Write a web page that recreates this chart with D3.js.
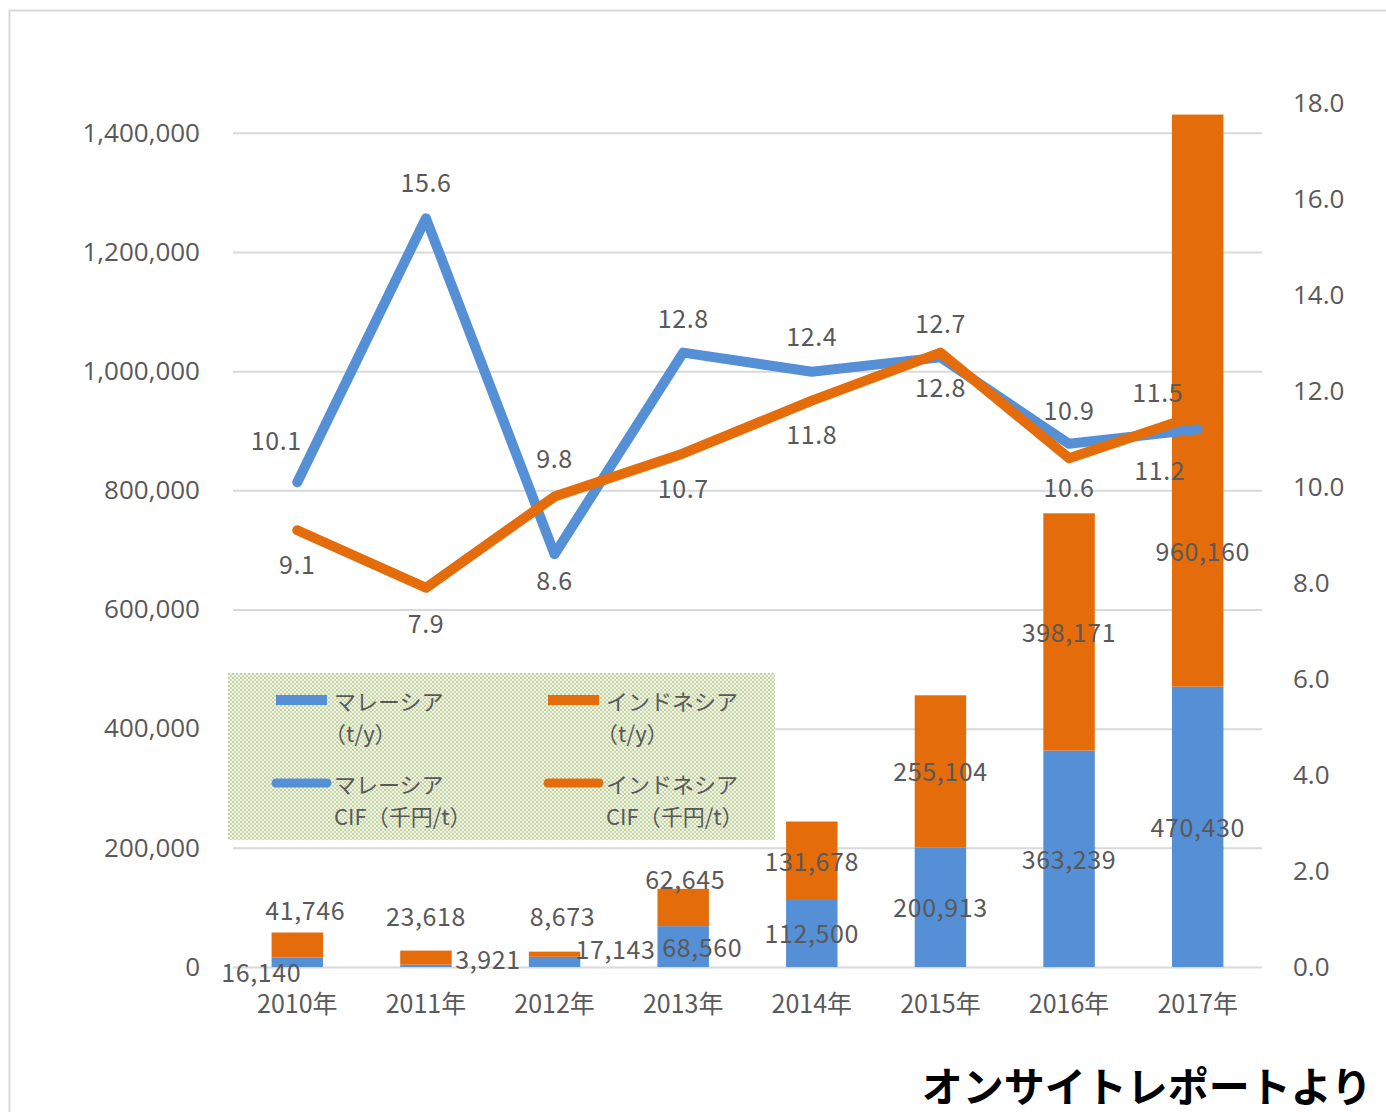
<!DOCTYPE html>
<html>
<head>
<meta charset="utf-8">
<script src="https://d3js.org/d3.v7.min.js"></script>
<style>
  body { margin: 0; background: #fff; }
  svg { display: block; }
</style>
</head>
<body>
<svg id="chart" width="1386" height="1112"></svg>
<script>
// data
var years = ["2010年", "2011年", "2012年", "2013年", "2014年", "2015年", "2016年", "2017年"];
var malaysiaTons = [16140, 3921, 17143, 68560, 112500, 200913, 363239, 470430];
var indonesiaTons = [41746, 23618, 8673, 62645, 131678, 255104, 398171, 960160];
var malaysiaCif = [10.1, 15.6, 8.6, 12.8, 12.4, 12.7, 10.9, 11.2];
var indonesiaCif = [9.1, 7.9, 9.8, 10.7, 11.8, 12.8, 10.6, 11.5];
var leftTicks = [0, 200000, 400000, 600000, 800000, 1000000, 1200000, 1400000];
var rightTicks = [0, 2, 4, 6, 8, 10, 12, 14, 16, 18];

var blue = "#5590d6", orange = "#e46c0a", textGray = "#595959";
var cjk = "'Noto Sans CJK JP', 'Noto Sans', sans-serif";

var svg = d3.select("#chart"),
    plotLeft = 233, plotRight = 1262, plotTop = 103, plotBottom = 967;

var x = d3.scaleBand().domain(years).range([plotLeft, plotRight]).paddingInner(0.6).paddingOuter(0.3);
var yL = d3.scaleLinear().domain([0, 1450000]).range([plotBottom, plotTop]);
var yR = d3.scaleLinear().domain([0, 18]).range([plotBottom, plotTop]);

// outer frame
svg.append("rect")
    .attr("x", 9.5).attr("y", 10.5)
    .attr("width", 1400).attr("height", 1200)
    .attr("fill", "none").attr("stroke", "#d9d9d9").attr("stroke-width", 2);

// gridlines
svg.append("g")
    .attr("transform", "translate(" + plotLeft + ",0)")
    .call(d3.axisLeft(yL).tickValues(leftTicks).tickSize(-(plotRight - plotLeft)).tickFormat(""))
    .call(function(g) { g.select(".domain").remove(); })
    .selectAll("line").attr("stroke", "#d9d9d9").attr("stroke-width", 2);

// left axis labels
svg.append("g")
    .attr("transform", "translate(" + plotLeft + ",0)")
    .call(d3.axisLeft(yL).tickValues(leftTicks).tickSize(0).tickPadding(33).tickFormat(d3.format(",")))
    .call(function(g) { g.select(".domain").remove(); })
    .selectAll("text")
    .attr("fill", textGray).style("font-family", "'Open Sans', sans-serif").style("font-size", "26px");

// right axis labels
svg.append("g")
    .attr("transform", "translate(" + plotRight + ",0)")
    .call(d3.axisRight(yR).tickValues(rightTicks).tickSize(0).tickPadding(31).tickFormat(d3.format(".1f")))
    .call(function(g) { g.select(".domain").remove(); })
    .selectAll("text")
    .attr("fill", textGray).style("font-family", "'Open Sans', sans-serif").style("font-size", "26px");

// category labels
svg.append("g")
    .attr("transform", "translate(0," + plotBottom + ")")
    .call(d3.axisBottom(x).tickSize(0).tickPadding(28))
    .call(function(g) { g.select(".domain").remove(); })
    .selectAll("text")
    .attr("fill", textGray).style("font-family", cjk).style("font-size", "25px");

// stacked bars
var stack = years.map(function(y, i) {
    return { year: y, m: malaysiaTons[i], n: indonesiaTons[i] };
});

var bars = svg.append("g");
bars.selectAll(".bm").data(stack).enter().append("rect")
    .attr("x", function(d) { return x(d.year); })
    .attr("width", x.bandwidth())
    .attr("y", function(d) { return yL(d.m); })
    .attr("height", function(d) { return yL(0) - yL(d.m); })
    .attr("fill", blue);
bars.selectAll(".bn").data(stack).enter().append("rect")
    .attr("x", function(d) { return x(d.year); })
    .attr("width", x.bandwidth())
    .attr("y", function(d) { return yL(d.m + d.n); })
    .attr("height", function(d) { return yL(d.m) - yL(d.m + d.n); })
    .attr("fill", orange);

// lines
var line = d3.line()
    .x(function(d, i) { return x(years[i]) + x.bandwidth() / 2; })
    .y(function(d) { return yR(d); });

[[malaysiaCif, blue], [indonesiaCif, orange]].forEach(function(s) {
    svg.append("path")
        .datum(s[0])
        .attr("d", line)
        .attr("fill", "none")
        .attr("stroke", s[1])
        .attr("stroke-width", 10)
        .attr("stroke-linejoin", "round")
        .attr("stroke-linecap", "round");
});

// data labels (nudges mimic hand-placed labels in the original)
var mBarNudge = [[-36, 9], [62, -8], [61, -14], [19, -1], [0, -1], [0, -1], [0, -1], [0, -1]];
var nBarNudge = [[8, -36], [0, -43], [8, -39], [2, -29], [0, -1], [0, -1], [0, -1], [5, 149]];
var mCifNudge = [[-21, -43], [0, -37], [0, 25], [0, -36], [0, -37], [0, -35], [0, -35], [-38, 40]];
var nCifNudge = [[0, 33], [0, 34], [0, -40], [0, 34], [0, 32], [0, 33], [0, 28], [-40, -24]];

var labels = svg.append("g")
    .attr("fill", textGray)
    .style("font-family", cjk)
    .style("font-size", "25px")
    .style("letter-spacing", "0.6px")
    .attr("text-anchor", "middle")
    .attr("dominant-baseline", "central");

function addLabel(cx, cy, nudge, txt) {
    labels.append("text")
        .attr("x", cx + nudge[0])
        .attr("y", cy + nudge[1])
        .text(txt);
}

stack.forEach(function(d, i) {
    var cx = x(d.year) + x.bandwidth() / 2;
    addLabel(cx, (yL(0) + yL(d.m)) / 2, mBarNudge[i], d3.format(",")(d.m));
    addLabel(cx, (yL(d.m) + yL(d.m + d.n)) / 2, nBarNudge[i], d3.format(",")(d.n));
    addLabel(cx, yR(malaysiaCif[i]), mCifNudge[i], d3.format(".1f")(malaysiaCif[i]));
    addLabel(cx, yR(indonesiaCif[i]), nCifNudge[i], d3.format(".1f")(indonesiaCif[i]));
});

// legend
var defs = svg.append("defs");
var pat = defs.append("pattern")
    .attr("id", "dots").attr("width", 4).attr("height", 4)
    .attr("patternUnits", "userSpaceOnUse");
pat.append("rect").attr("width", 4).attr("height", 4).attr("fill", "#f2f5ea");
pat.append("rect").attr("width", 2).attr("height", 2).attr("fill", "#c2d19c");
pat.append("rect").attr("x", 2).attr("y", 2).attr("width", 2).attr("height", 2).attr("fill", "#c9d6a8");

var legend = svg.append("g").attr("transform", "translate(228,673)");
legend.append("rect").attr("width", 547).attr("height", 167).attr("fill", "url(#dots)");

var legendItems = [
    { type: "bar", color: blue, l1: "マレーシア", l2: "（t/y）" },
    { type: "bar", color: orange, l1: "インドネシア", l2: "（t/y）" },
    { type: "line", color: blue, l1: "マレーシア", l2: "CIF（千円/t）" },
    { type: "line", color: orange, l1: "インドネシア", l2: "CIF（千円/t）" }
];

legend.selectAll("g").data(legendItems).enter().append("g")
    .each(function(d, i) {
        var g = d3.select(this)
            .attr("transform", "translate(" + (48 + (i % 2) * 272) + "," + (27 + Math.floor(i / 2) * 83) + ")");
        if (d.type === "bar") {
            g.append("rect").attr("x", 0).attr("y", -5).attr("width", 51).attr("height", 10).attr("fill", d.color);
        } else {
            g.append("line").attr("x1", 0).attr("x2", 51).attr("y1", 0).attr("y2", 0)
                .attr("stroke", d.color).attr("stroke-width", 9).attr("stroke-linecap", "round");
        }
        g.append("text").attr("x", 58).attr("y", 0)
            .attr("dominant-baseline", "central")
            .attr("fill", textGray).style("font-family", cjk).style("font-size", "22px")
            .text(d.l1);
        // full-width bracket has its glyph on the right half, pull it back
        g.append("text").attr("x", d.type === "bar" ? 48 : 58).attr("y", 32)
            .attr("dominant-baseline", "central")
            .attr("fill", textGray).style("font-family", cjk).style("font-size", "22px")
            .text(d.l2);
    });

// source note
svg.append("text")
    .attr("x", 1372).attr("y", 1102)
    .attr("text-anchor", "end")
    .style("font-family", cjk).style("font-size", "41px").style("font-weight", "bold")
    .attr("fill", "#000")
    .text("オンサイトレポートより");
</script>
</body>
</html>
